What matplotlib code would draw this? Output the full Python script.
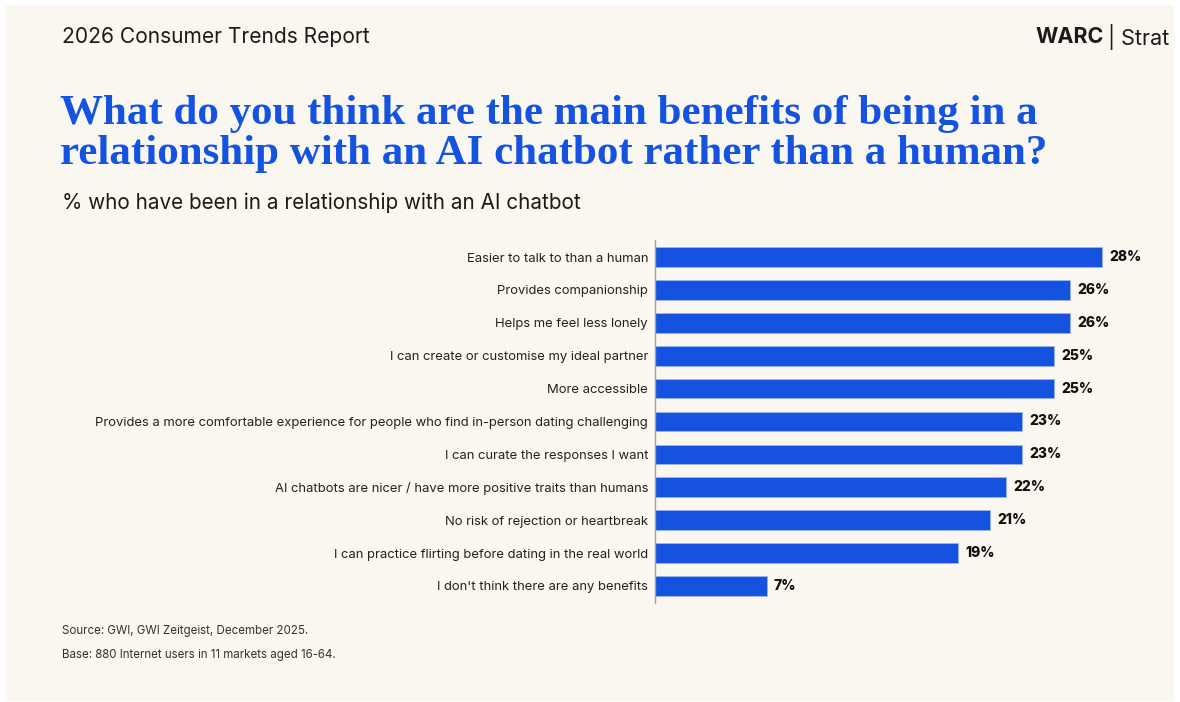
import matplotlib.pyplot as plt
from matplotlib.patches import Rectangle

# Survey answers, top to bottom
benefits = [
    "Easier to talk to than a human",
    "Provides companionship",
    "Helps me feel less lonely",
    "I can create or customise my ideal partner",
    "More accessible",
    "Provides a more comfortable experience for people who find in-person dating challenging",
    "I can curate the responses I want",
    "AI chatbots are nicer / have more positive traits than humans",
    "No risk of rejection or heartbreak",
    "I can practice flirting before dating in the real world",
    "I don't think there are any benefits",
]
shares = [28, 26, 26, 25, 25, 23, 23, 22, 21, 19, 7]

header = "2026 Consumer Trends Report"
title = ("What do you think are the main benefits of being in a\n"
         "relationship with an AI chatbot rather than a human?")
subtitle = "% who have been in a relationship with an AI chatbot"
source = "Source: GWI, GWI Zeitgeist, December 2025."
base = "Base: 880 Internet users in 11 markets aged 16-64."

BLUE = "#1652E0"
CREAM = "#FAF7F0"
INK = "#1b1b1b"

W, H = 1180, 702
fig = plt.figure(figsize=(W / 100, H / 100), dpi=100)
fig.patch.set_facecolor("white")

# cream page panel
fig.patches.append(Rectangle((6 / W, 1 - 701 / H), 1168 / W, 696 / H,
                             transform=fig.transFigure, facecolor=CREAM,
                             edgecolor="none", zorder=-10))

fig.text(62 / W, 1 - 37 / H, header, fontsize=15.1, family="Inter",
         color=INK, va="center", ha="left")

# brand mark in the top right corner
fig.text(1035 / W, 1 - 37 / H, "WARC", fontsize=15.5, family="Inter",
         weight="bold", color=INK, va="center", ha="left")
fig.text(1108 / W, 1 - 37 / H, "| Strat", fontsize=15.5,
         family="Inter", color=INK, va="center", ha="left")

fig.text(60 / W, 1 - 134 / H, title, fontsize=31, family="Liberation Serif",
         weight="bold", color=BLUE, va="center", ha="left", linespacing=1.1)
fig.text(62 / W, 1 - 203 / H, subtitle, fontsize=14.9, family="Inter",
         color=INK, va="center", ha="left")

fig.text(62 / W, 1 - 631 / H, source, fontsize=8.3, family="Inter",
         color="#333333", va="center", ha="left")
fig.text(62 / W, 1 - 655 / H, base, fontsize=8.3, family="Inter",
         color="#333333", va="center", ha="left")

# bar chart area
ax_left, ax_right = 655, 1174
ax_top, ax_bot = 240, 603
ax = fig.add_axes([ax_left / W, 1 - ax_bot / H,
                   (ax_right - ax_left) / W, (ax_bot - ax_top) / H])
ax.set_facecolor("none")

ypos = list(range(len(benefits)))
ax.barh(ypos, shares, height=0.6, color=BLUE, edgecolor="#9db5f0",
        linewidth=0.6)
ax.set_xlim(0, (ax_right - ax_left) / 15.96)
ax.set_ylim(len(benefits) - 0.483, -0.517)

for y, v in zip(ypos, shares):
    ax.text(v + 0.45, y, f"{v}%", va="center", ha="left", fontsize=10,
            family="Inter", weight="heavy", color="#111111")

ax.set_yticks(ypos)
ax.set_yticklabels(benefits, fontsize=9.4, family="Inter", color="#222222")
ax.tick_params(axis="y", length=0, pad=5)
ax.set_xticks([])
for side in ("top", "right", "bottom"):
    ax.spines[side].set_visible(False)
ax.spines["left"].set_color("#a0a0a0")
ax.spines["left"].set_linewidth(1.0)

fig.savefig("out.png", dpi=100, facecolor="white")
